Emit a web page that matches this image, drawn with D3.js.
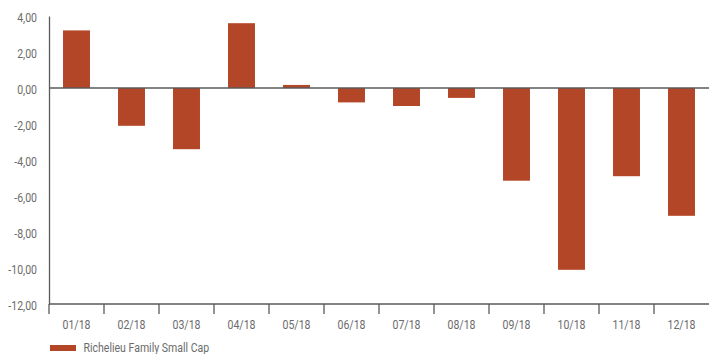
<!DOCTYPE html>
<html>
<head>
<meta charset="utf-8">
<script src="https://cdn.jsdelivr.net/npm/d3@7"></script>
<style>
  html, body { margin: 0; padding: 0; background: #fff; }
  svg { display: block; }
  text { font-family: "Roboto", "Liberation Sans", sans-serif; fill: #6b6b6b; }
</style>
</head>
<body>
<svg id="chart" width="709" height="354"></svg>
<script>
// Monthly performance, Richelieu Family Small Cap (%)
const months = ["01/18","02/18","03/18","04/18","05/18","06/18","07/18","08/18","09/18","10/18","11/18","12/18"];
const returns = [3.2, -2.1, -3.4, 3.6, 0.17, -0.8, -1.0, -0.55, -5.15, -10.1, -4.9, -7.1];
const yTicks = [4, 2, 0, -2, -4, -6, -8, -10, -12];
const seriesName = "Richelieu Family Small Cap";

const svg = d3.select("#chart");
const margin = { left: 49, right: 0, top: 16, bottom: 50 };
const W = 709, H = 354;
const barColor = "#b34626";
const axisColor = "#5a5a5a";
const fontSize = 13.5;
const narrow = 0.78; // horizontal squeeze for a condensed look

const x = d3.scaleBand().domain(months).range([margin.left, W - margin.right]).paddingInner(0.51).paddingOuter(0.255);
const y = d3.scaleLinear().domain([-12, 4]).range([H - margin.bottom, margin.top]);

const fmt = v => d3.format(".2f")(v).replace(".", ",").replace("−", "-");

// bars
svg.append("g").selectAll("rect").data(returns).join("rect")
  .attr("x", (d, i) => x(months[i]))
  .attr("width", x.bandwidth())
  .attr("y", d => y(Math.max(0, d)))
  .attr("height", d => Math.abs(y(d) - y(0)))
  .attr("fill", barColor);

// zero line
svg.append("line")
  .attr("x1", margin.left).attr("x2", W)
  .attr("y1", y(0)).attr("y2", y(0))
  .attr("stroke", axisColor).attr("stroke-width", 1.3);

// y axis
const yAxis = svg.append("g").attr("transform", `translate(${margin.left},0)`)
  .call(d3.axisLeft(y).tickValues(yTicks).tickSize(0).tickFormat(fmt));
yAxis.select(".domain").attr("stroke", axisColor).attr("stroke-width", 1.3);
yAxis.selectAll("text")
  .attr("x", 0)
  .attr("dy", "0.42em")
  .attr("font-size", fontSize)
  .attr("transform", `translate(-12,0) scale(${narrow},1)`)
  .style("fill", "#6b6b6b");

// x axis with ticks at category boundaries
const xAxisY = y(-12);
svg.append("line")
  .attr("x1", margin.left).attr("x2", W)
  .attr("y1", xAxisY).attr("y2", xAxisY)
  .attr("stroke", axisColor).attr("stroke-width", 1.3);
const step = x.step();
const boundary = d => x(d) - step * x.paddingInner() / 2;
svg.append("g").selectAll("line").data(months).join("line")
  .attr("x1", boundary).attr("x2", boundary)
  .attr("y1", xAxisY).attr("y2", xAxisY + 10)
  .attr("stroke", axisColor).attr("stroke-width", 1.3);
svg.append("g").selectAll("text").data(months).join("text")
  .attr("transform", d => `translate(${x(d) + x.bandwidth() / 2},${xAxisY + 25}) scale(${narrow},1)`)
  .attr("text-anchor", "middle")
  .attr("font-size", fontSize)
  .text(d => d);

// legend
svg.append("rect").attr("x", 50).attr("y", 345).attr("width", 26).attr("height", 6).attr("fill", barColor);
svg.append("text")
  .attr("transform", `translate(83.5,351.7) scale(${narrow},1)`)
  .attr("font-size", fontSize)
  .text(seriesName);
</script>
</body>
</html>
